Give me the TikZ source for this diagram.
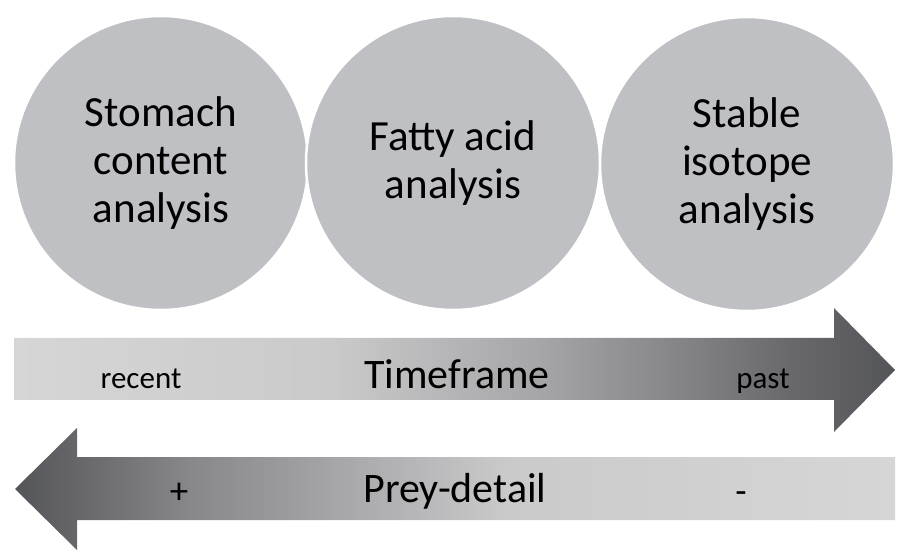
\documentclass[tikz,border=0pt]{standalone}
\usepackage{fontspec}
\setmainfont{Carlito}
\definecolor{discgray}{RGB}{191,192,196}
\definecolor{tfa}{RGB}{214,214,214}
\definecolor{tfb}{RGB}{202,202,203}
\definecolor{tfc}{RGB}{165,165,168}
\definecolor{tfd}{RGB}{135,135,140}
\definecolor{tfe}{RGB}{105,105,109}
\definecolor{tff}{RGB}{84,85,89}
\pgfdeclarehorizontalshading{timefade}{100bp}{color(0bp)=(tfa); color(25bp)=(tfa); color(43bp)=(tfb); color(55bp)=(tfc); color(62bp)=(tfd); color(69bp)=(tfe); color(75bp)=(tff); color(100bp)=(tff)}
\pgfdeclarehorizontalshading{preyfade}{100bp}{color(0bp)=(tff); color(25bp)=(tff); color(29bp)=(tfe); color(35bp)=(tfd); color(43bp)=(tfc); color(53bp)=(tfb); color(75bp)=(tfa); color(100bp)=(tfa)}
\begin{document}
\begin{tikzpicture}[x=1pt,y=1pt,
  disc/.style={circle,fill=discgray,draw=white,line width=2.5pt,minimum size=294pt,inner sep=0pt,align=center,font=\fontsize{43}{48}\selectfont},
  bigtag/.style={font=\fontsize{42}{48}\selectfont,anchor=base},
  smalltag/.style={font=\fontsize{31}{36}\selectfont,anchor=base},
  signtag/.style={font=\fontsize{37}{40}\selectfont,anchor=base}]
\useasboundingbox (0,0) rectangle (897,552);
% the three methods
\node[disc] (stomach) at (161,389) {Stomach\\content\\analysis};
\node[disc] (fatty) at (453,389) {Fatty acid\\analysis};
\node[disc] (isotope) at (747,388) {Stable\\isotope\\analysis};
% timeframe arrow
\shade[shading=timefade] (14,214) -- (834,214) -- (834,244) -- (895,182) -- (834,120) -- (834,152) -- (14,152) -- cycle;
\node[smalltag] (recent) at (141,164) {recent};
\node[bigtag] (timeframe) at (457,164) {Timeframe};
\node[smalltag] (past) at (763,164) {past};
% prey-detail arrow
\shade[shading=preyfade] (895,95) -- (77,95) -- (77,124) -- (15,63) -- (77,2) -- (77,32) -- (895,32) -- cycle;
\node[signtag] (plus) at (179,49) {+};
\node[bigtag] (preydetail) at (455,50) {Prey-detail};
\node[signtag] (minus) at (741,49) {-};
\end{tikzpicture}
\end{document}
